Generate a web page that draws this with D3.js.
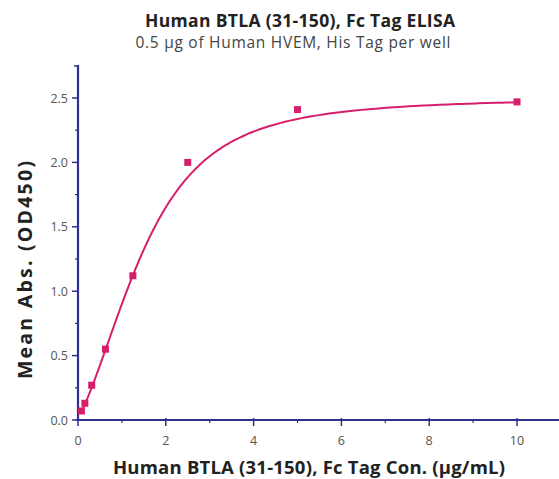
<!DOCTYPE html>
<html>
<head>
<meta charset="utf-8">
<script src="https://cdn.jsdelivr.net/npm/d3@7"></script>
<style>
  body { margin: 0; background: #fff; }
  svg text { font-family: "Open Sans", "Noto Sans", sans-serif; }
</style>
</head>
<body>
<div id="chart"></div>
<script>
// measured points (conc in ug/mL, OD450)
var conc = [0.078, 0.156, 0.3125, 0.625, 1.25, 2.5, 5, 10];
var od   = [0.07, 0.13, 0.27, 0.55, 1.12, 2.0, 2.41, 2.47];

// 5PL fit parameters
var fitBottom = 0.02, fitTop = 2.5, fitC = 2.24, fitB = 2.4, fitE = 0.5;

var xTicks = [0, 2, 4, 6, 8, 10];
var yTicks = [0, 0.5, 1.0, 1.5, 2.0, 2.5];

var width = 559, height = 479;
var axisCol = "#2e3192", markCol = "#d61f6c";

var svg = d3.select("#chart").append("svg")
  .attr("width", width).attr("height", height);

var x = d3.scaleLinear().domain([0, 10]).range([78, 517]);
var y = d3.scaleLinear().domain([0, 2.5]).range([420, 98]);

// titles
svg.append("text").attr("x", 300).attr("y", 27)
  .attr("text-anchor", "middle").attr("font-size", 17.5).attr("font-weight", "bold")
  .attr("textLength", 310).attr("lengthAdjust", "spacing")
  .attr("fill", "#222").text("Human BTLA (31-150), Fc Tag ELISA");
svg.append("text").attr("x", 293).attr("y", 48)
  .attr("text-anchor", "middle").attr("font-size", 15.5)
  .attr("textLength", 315).attr("lengthAdjust", "spacing")
  .attr("fill", "#444").text("0.5 μg of Human HVEM, His Tag per well");

// y axis
svg.append("line").attr("x1", x(0)).attr("x2", x(0)).attr("y1", 65).attr("y2", y(0) + 1)
  .attr("stroke", axisCol).attr("stroke-width", 2.2);
svg.append("line").attr("x1", x(0) - 4).attr("x2", x(0)).attr("y1", 66).attr("y2", 66)
  .attr("stroke", axisCol).attr("stroke-width", 1.5);
var yMinor = d3.range(0.25, 2.75, 0.5);
svg.selectAll(".ymin").data(yMinor).enter().append("line")
  .attr("x1", x(0) - 3).attr("x2", x(0)).attr("y1", d => y(d)).attr("y2", d => y(d))
  .attr("stroke", axisCol).attr("stroke-width", 1.2);
svg.selectAll(".ymaj").data(yTicks).enter().append("line")
  .attr("x1", x(0) - 6).attr("x2", x(0)).attr("y1", d => y(d)).attr("y2", d => y(d))
  .attr("stroke", axisCol).attr("stroke-width", 1.5);
svg.selectAll(".ylab").data(yTicks).enter().append("text")
  .attr("x", x(0) - 10).attr("y", d => y(d) + 4.5).attr("text-anchor", "end")
  .attr("font-size", 12.5).attr("fill", "#555").text(d3.format(".1f"));

// x axis
svg.append("line").attr("x1", x(0) - 2).attr("x2", width).attr("y1", y(0)).attr("y2", y(0))
  .attr("stroke", axisCol).attr("stroke-width", 2.2);
var xMinor = d3.range(1, 12, 2);
svg.selectAll(".xmin").data(xMinor).enter().append("line")
  .attr("x1", d => x(d)).attr("x2", d => x(d)).attr("y1", y(0) - 1).attr("y2", y(0) + 3)
  .attr("stroke", axisCol).attr("stroke-width", 1.2);
svg.selectAll(".xmaj").data(xTicks).enter().append("line")
  .attr("x1", d => x(d)).attr("x2", d => x(d)).attr("y1", y(0) - 2).attr("y2", y(0) + 6)
  .attr("stroke", axisCol).attr("stroke-width", 1.5);
svg.selectAll(".xlab").data(xTicks).enter().append("text")
  .attr("x", d => x(d)).attr("y", y(0) + 25).attr("text-anchor", "middle")
  .attr("font-size", 12.5).attr("fill", "#555").text(d => d);

// axis titles
svg.append("text").attr("transform", "translate(32,270) rotate(-90)")
  .attr("text-anchor", "middle").attr("font-size", 19.5).attr("font-weight", "bold")
  .attr("textLength", 218).attr("lengthAdjust", "spacing")
  .attr("fill", "#222").text("Mean Abs. (OD450)");
svg.append("text").attr("x", 309).attr("y", 474)
  .attr("text-anchor", "middle").attr("font-size", 18.5).attr("font-weight", "bold")
  .attr("textLength", 392).attr("lengthAdjust", "spacing")
  .attr("fill", "#222").text("Human BTLA (31-150), Fc Tag Con. (μg/mL)");

// fitted curve
function fit(c) {
  return fitBottom + (fitTop - fitBottom) / Math.pow(1 + Math.pow(fitC / c, fitB), fitE);
}
var curveX = d3.range(0, 201).map(i => conc[0] * Math.pow(conc[conc.length - 1] / conc[0], i / 200));
svg.append("path").datum(curveX)
  .attr("d", d3.line().x(d => x(d)).y(d => y(fit(d))).curve(d3.curveMonotoneX))
  .attr("fill", "none").attr("stroke", markCol).attr("stroke-width", 2);

// points
svg.selectAll(".pt").data(conc).enter().append("rect")
  .attr("x", d => x(d) - 3.5).attr("y", (d, i) => y(od[i]) - 3.5)
  .attr("width", 7).attr("height", 7).attr("fill", markCol);
</script>
</body>
</html>
